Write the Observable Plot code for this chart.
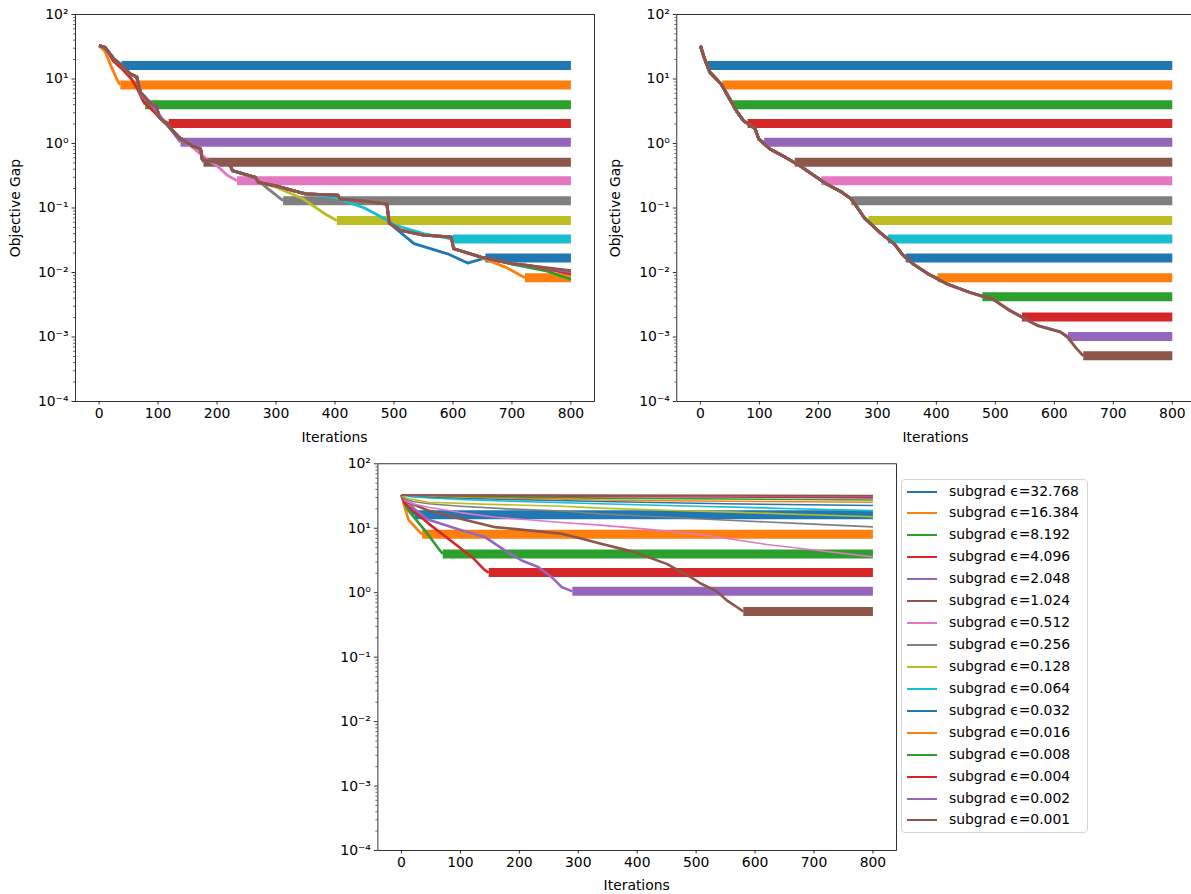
<!DOCTYPE html>
<html><head><meta charset="utf-8">
<script src="https://cdn.jsdelivr.net/npm/d3@7"></script>
<script src="https://cdn.jsdelivr.net/npm/@observablehq/plot@0.6"></script>
<style>
html,body{margin:0;padding:0;background:#fff;overflow:hidden}
#fig{position:relative;width:1191px;height:894px;overflow:hidden;font-family:"DejaVu Sans",sans-serif;color:#000;background:#fff}
.panel{position:absolute}
.panel svg{max-width:none !important;display:block}
.lbl{position:absolute;font-size:13.9px;white-space:nowrap;transform:translate(-50%,-50%);line-height:1}
.legend{position:absolute;left:901px;top:479px;width:187px;height:354px;border:1px solid #d6d6d6;border-radius:4px;box-sizing:border-box;background:rgba(255,255,255,0.8)}
.lrow{position:absolute;left:0;height:0}
.lrow .sw{position:absolute;left:5px;top:-1px;width:30px;height:2px}
.lrow .tx{position:absolute;left:47px;top:-9px;font-size:13.9px;white-space:nowrap;line-height:17px}
</style></head><body><div id="fig"></div>
<script>
// ---------------- data ----------------
const tab10 = ["#1f77b4","#ff7f0e","#2ca02c","#d62728","#9467bd","#8c564b","#e377c2","#7f7f7f","#bcbd22","#17becf"];
const epsLabels = ["32.768","16.384","8.192","4.096","2.048","1.024","0.512","0.256","0.128","0.064","0.032","0.016","0.008","0.004","0.002","0.001"];
// noise-floor level each series settles at
const plateauLevel = [16.2, 8.1, 4.0, 2.05, 1.05, 0.51, 0.265, 0.13, 0.064, 0.033, 0.0168, 0.0083, 0.0042, 0.00205, 0.00102, 0.00051];

const xTicks = [0, 100, 200, 300, 400, 500, 600, 700, 800];
const yTicks = [1e-4, 1e-3, 1e-2, 1e-1, 1, 10, 100];
const yTickLabels = ["10⁻⁴", "10⁻³", "10⁻²", "10⁻¹", "10⁰", "10¹", "10²"];
const yMinorMultipliers = [2, 3, 4, 5, 6, 7, 8, 9];

// top-left panel: shared staircase descent, where each series leaves it, its own tail, plateau start
const leftStair = [[0,32.8],[10,31],[24,21],[38,16.2],[53,12],[64,10.7],[70,6.2],[87,4.2],[98,3.7],[101,2.6],[115,2.0],[135,1.25],[160,0.9],[172,0.83],[175,0.56],[222,0.47],[226,0.38],[265,0.3],[270,0.25],[300,0.22],[340,0.175],[350,0.165],[405,0.158],[408,0.138],[450,0.128],[488,0.115],[492,0.058],[512,0.045],[550,0.038],[597,0.0355],[601,0.0235],[648,0.0173],[700,0.0137],[727,0.0129],[800,0.0107]];
const leftBranchAt = [25, 5, 65, 11, 65, 161, 136, 227, 271, 341, 493, 602, 649, 728, 728, 1000];
const leftTails = [
  [],
  [[10,27],[20,16],[30,10],[34,8.6]],
  [[68,7],[75,4.6]],
  [[24,19],[40,14],[55,10],[65,7],[75,4.5],[90,3.3],[105,2.4]],
  [[72,5.5],[88,4],[100,3],[110,2.2],[125,1.5]],
  [[172,0.8]],
  [[160,0.85],[180,0.6],[200,0.45],[218,0.32]],
  [[265,0.29],[286,0.2]],
  [[300,0.21],[345,0.14],[384,0.08]],
  [[400,0.145],[450,0.1],[488,0.065],[500,0.055],[550,0.04]],
  [[534,0.028],[591,0.0195],[625,0.014]],
  [[648,0.017],[690,0.012]],
  [[700,0.0135],[760,0.0105],[800,0.0078]],
  [[800,0.0095]],
  [[800,0.0102]],
  []
];
const leftPlateauStart = [38, 36, 78, 118, 138, 177, 234, 312, 403, 600, 655, 722, null, null, null, null];

// top-right panel: shared smooth descent and plateau starts
const rightDescent = [[0,32.8],[6,22],[16,12.7],[35,8.4],[48,5.2],[61,3.2],[73,2.26],[93,1.68],[99,1.17],[118,0.82],[144,0.61],[169,0.45],[188,0.34],[214,0.235],[240,0.175],[255,0.14],[262,0.115],[278,0.07],[304,0.042],[329,0.0276],[342,0.0193],[361,0.0135],[387,0.0094],[419,0.0066],[457,0.0049],[495,0.0039],[521,0.0027],[546,0.002],[572,0.0015],[610,0.0012],[623,0.00098],[636,0.00069],[649,0.00049]];
const rightPlateauStart = [11, 37, 55, 80, 108, 160, 205, 256, 285, 318, 348, 402, 478, 545, 623, 649];

// bottom panel: each series' own path
const bottomPaths = [
  [[0,32.8],[10,22],[20,17]],
  [[0,32.8],[5,22],[12,13.5],[25,10],[33,8.3]],
  [[0,32.8],[5,25],[12,18.8],[40,9.2],[63,4.8]],
  [[0,32.8],[6,24],[46,11.8],[91,5.7],[120,3.56],[140,2.3]],
  [[0,32.8],[8,27],[23,19.5],[46,13.5],[103,9.2],[142,7.3],[176,4.5],[204,3.16],[232,2.5],[255,1.74],[272,1.22]],
  [[0,32.8],[8,26],[46,18.8],[100,14],[159,10.4],[220,9.2],[272,8.2],[303,7],[337,5.8],[394,4.3],[450,2.8],[493,1.7],[507,1.4],[535,1.05],[552,0.76],[569,0.6]],
  [[0,32.8],[6,27],[18,24],[46,21.2],[100,17.5],[159,14.8],[220,13.4],[272,12.3],[337,11.2],[420,9.6],[507,8.0],[620,5.6],[700,4.6],[800,3.6]],
  [[0,32.8],[5,29],[20,26],[46,24],[100,22],[180,20],[272,18.5],[337,16.7],[450,14.8],[563,13.2],[680,11.8],[800,10.5]],
  [[0,32.8],[10,29],[46,25.3],[150,23.5],[272,22],[337,20.5],[450,19],[563,17.8],[680,16.3],[800,15.1]],
  [[0,32.8],[20,30.5],[100,28],[200,26],[337,24],[500,22],[650,20.3],[800,18.8]],
  [[0,32.8],[50,30.5],[150,28.5],[337,26],[550,24],[800,22.5]],
  [[0,32.8],[100,30.5],[337,27.5],[550,26.3],[800,25.3]],
  [[0,32.8],[150,31],[337,29.3],[800,27.5]],
  [[0,32.8],[337,31.2],[800,29.6]],
  [[0,32.8],[400,32],[800,31.1]],
  [[0,32.8],[800,32.2]]
];
const bottomPlateauStart = [22, 35, 70, 148, 290, 580, null, null, null, null, null, null, null, null, null, null];

// ---------------- build ----------------
const yMinorTicks = yTicks.slice(0, -1).flatMap(t => yMinorMultipliers.map(m => t * m));
const yLabelMap = new Map(yTicks.map((t, i) => [t, yTickLabels[i]]));
const withPlateau = (path, i, starts) => starts[i] == null ? path : path.concat([[starts[i], plateauLevel[i]]]);

const leftSeries = epsLabels.map((_, i) => withPlateau(leftStair.filter(p => p[0] < leftBranchAt[i]).concat(leftTails[i]), i, leftPlateauStart));
const rightSeries = epsLabels.map((_, i) => withPlateau(rightDescent.filter(p => p[0] < rightPlateauStart[i]), i, rightPlateauStart));
const bottomSeries = epsLabels.map((_, i) => withPlateau(bottomPaths[i], i, bottomPlateauStart));

function panel(series, starts, widthFor, g) {
  const marks = [];
  series.forEach((path, i) => {
    const c = tab10[i % 10];
    marks.push(Plot.line(path, {x: d => d[0], y: d => d[1], stroke: c, strokeWidth: widthFor(i), strokeLinejoin: "round", strokeLinecap: "butt"}));
    if (starts[i] != null) {
      const band = [[starts[i], plateauLevel[i]], [800, plateauLevel[i]]];
      marks.push(Plot.line(band, {x: d => d[0], y: d => d[1], stroke: c, strokeWidth: 9, strokeLinecap: "butt"}));
    }
  });
  marks.push(Plot.axisX({ticks: xTicks, tickSize: 3.5, tickPadding: 3.5, strokeWidth: 0.8, label: null, tickFormat: d => String(d)}));
  marks.push(Plot.axisY({ticks: yMinorTicks, tickSize: 2, strokeWidth: 0.6, label: null, tickFormat: () => ""}));
  marks.push(Plot.axisY({ticks: yTicks, tickSize: 3.5, tickPadding: 3.5, strokeWidth: 0.8, label: null, tickFormat: d => yLabelMap.get(d)}));
  marks.push(Plot.frame({stroke: "#000", strokeWidth: 0.8}));
  const svg = Plot.plot({
    width: g.w, height: g.h,
    marginLeft: g.ml, marginRight: g.mr, marginTop: g.mt, marginBottom: g.mb,
    x: {domain: [-40, 840]},
    y: {type: "log", domain: [1e-4, 100]},
    style: {fontFamily: '"DejaVu Sans", sans-serif', fontSize: "13.9px", color: "#000", background: "transparent", overflow: "visible", maxWidth: "none"},
    marks
  });
  const wrap = document.createElement("div");
  wrap.className = "panel";
  wrap.style.left = g.left + "px";
  wrap.style.top = g.top + "px";
  wrap.style.width = g.w + "px";
  wrap.style.height = g.h + "px";
  wrap.appendChild(svg);
  return wrap;
}

const fig = document.getElementById("fig");
fig.appendChild(panel(leftSeries, leftPlateauStart, () => 2.8, {left: 0, top: 0, w: 600, h: 450, ml: 75, mr: 6, mt: 14, mb: 49}));
fig.appendChild(panel(rightSeries, rightPlateauStart, () => 2.8, {left: 600, top: 0, w: 600, h: 450, ml: 76.3, mr: 4.6, mt: 14, mb: 49}));
fig.appendChild(panel(bottomSeries, bottomPlateauStart, i => i < 6 ? 2.6 : 1.6, {left: 320, top: 450, w: 580, h: 444, ml: 57.4, mr: 4, mt: 13.3, mb: 44}));

function label(text, x, y, rotate) {
  const d = document.createElement("div");
  d.className = "lbl";
  d.textContent = text;
  d.style.left = x + "px";
  d.style.top = y + "px";
  if (rotate) d.style.transform = "translate(-50%,-50%) rotate(-90deg)";
  fig.appendChild(d);
}
label("Objective Gap", 15.5, 207.5, true);
label("Objective Gap", 615.5, 207.5, true);
label("Iterations", 334.5, 438);
label("Iterations", 935.5, 438);
label("Iterations", 636.7, 886);

const legend = document.createElement("div");
legend.className = "legend";
epsLabels.forEach((e, i) => {
  const row = document.createElement("div");
  row.className = "lrow";
  row.style.top = Math.round(491.5 - 480 + 21.93 * i) + "px";
  const sw = document.createElement("div");
  sw.className = "sw";
  sw.style.background = tab10[i % 10];
  const tx = document.createElement("div");
  tx.className = "tx";
  tx.textContent = "subgrad ϵ=" + e;
  row.appendChild(sw);
  row.appendChild(tx);
  legend.appendChild(row);
});
fig.appendChild(legend);
</script></body></html>
